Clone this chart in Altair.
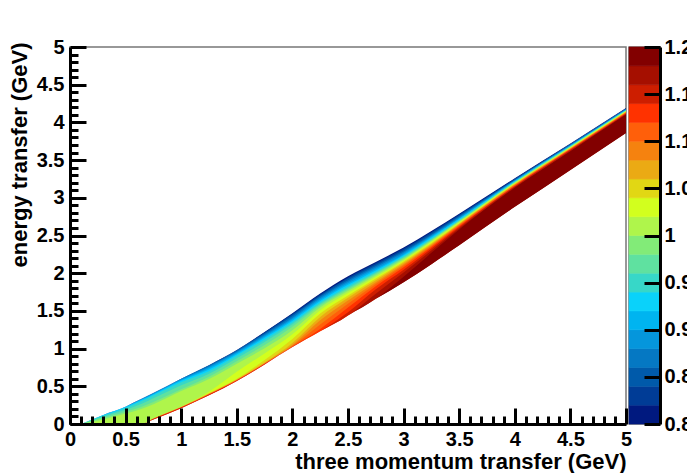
import altair as alt
import pandas as pd

FONT = "Liberation Sans"

# colour levels, from 0.80 (bottom of the palette) to 1.20 (top)
level_edges = [0.80, 0.82, 0.84, 0.86, 0.88, 0.90, 0.92, 0.94, 0.96, 0.98, 1.00,
               1.02, 1.04, 1.06, 1.08, 1.10, 1.12, 1.14, 1.16, 1.18, 1.20]
palette = ["#00197f", "#003c96", "#005aaa", "#0578c3", "#0596dc", "#00b4f0", "#0ad2fa",
           "#37d7c8", "#5fe1a0", "#82eb78", "#aff54b", "#d2ff1e", "#e1d714", "#ebaa14",
           "#f5820f", "#ff5f0a", "#ff3200", "#cd1e00", "#a50f00", "#820000"]

# three momentum transfer (GeV) at which the contours were read
q_knots = [0.1, 0.3, 0.5, 0.64, 0.75, 1.0, 1.25, 1.5, 1.75, 2.0, 2.25, 2.5, 2.75, 3.0, 3.25, 3.5, 4.0, 4.5, 5.0]
# energy transfer (GeV) of upper and lower boundary of the filled region
top_edge = [0.0, 0.12, 0.23, 0.33, 0.41, 0.60, 0.78, 0.98, 1.22, 1.47, 1.73, 1.96, 2.15, 2.34, 2.56, 2.79, 3.26, 3.72, 4.19]
bottom_edge = [0.0, 0.0, 0.0, 0.0, 0.06, 0.21, 0.38, 0.57, 0.79, 1.02, 1.23, 1.44, 1.66, 1.88, 2.12, 2.37, 2.88, 3.37, 3.86]

# position of the start of colour levels 1..19 across the band (0 = top edge, 1 = bottom edge), per q knot
contour_fractions = [
    [0, 0, 0, 0, 0, .03, .08, .20, .35, .50, 1, 1, 1, 1, 1, 1, 1, 1, 1],
    [0, 0, 0, 0, 0, .03, .08, .20, .35, .50, 1, 1, 1, 1, 1, 1, 1, 1, 1],
    [0, 0, 0, .01, .02, .04, .08, .18, .30, .40, 1, 1, 1, 1, 1, 1, 1, 1, 1],
    [0, 0, .005, .01, .03, .05, .09, .20, .32, .40, 1, 1, 1, 1, 1, 1, 1, 1, 1],
    [0, 0, .005, .01, .03, .05, .09, .20, .34, .42, .96, .96, .96, .97, .97, .97, .97, 1, 1],
    [0, 0, .005, .02, .04, .07, .12, .22, .36, .42, .95, .955, .96, .965, .97, .97, .975, 1, 1],
    [0, .005, .02, .05, .09, .14, .20, .28, .38, .46, .88, .93, .94, .95, .96, .965, .97, 1, 1],
    [.005, .01, .03, .06, .09, .13, .18, .26, .36, .44, .70, .93, .95, .96, .97, .975, .98, 1, 1],
    [.01, .03, .06, .10, .14, .18, .23, .31, .40, .50, .66, .86, .94, .96, .97, .98, .985, 1, 1],
    [.02, .05, .09, .14, .18, .22, .27, .33, .40, .50, .62, .76, .88, .94, .97, .98, .99, 1, 1],
    [.02, .05, .08, .12, .16, .20, .24, .28, .32, .37, .44, .53, .62, .71, .82, .94, 1, 1, 1],
    [.03, .06, .10, .14, .18, .22, .26, .30, .34, .38, .43, .49, .55, .62, .70, .80, .92, 1, 1],
    [.03, .07, .11, .15, .19, .23, .27, .30, .33, .37, .41, .45, .50, .55, .60, .66, .74, .86, 1],
    [.03, .07, .11, .15, .19, .22, .25, .28, .31, .34, .37, .40, .44, .48, .52, .57, .64, .72, .84],
    [.03, .07, .11, .14, .17, .20, .23, .26, .28, .30, .33, .36, .39, .42, .45, .48, .53, .59, .66],
    [.03, .06, .09, .12, .15, .17, .20, .22, .24, .26, .28, .30, .32, .34, .36, .39, .42, .46, .50],
    [.02, .04, .06, .08, .09, .11, .12, .13, .15, .16, .18, .19, .21, .22, .24, .26, .28, .31, .33],
    [.02, .03, .05, .07, .08, .09, .10, .11, .12, .13, .15, .17, .18, .19, .20, .22, .24, .27, .29],
    [.02, .03, .04, .06, .07, .08, .09, .10, .11, .12, .13, .15, .16, .17, .18, .20, .22, .24, .26],
]

x_labels = [0, 0.5, 1, 1.5, 2, 2.5, 3, 3.5, 4, 4.5, 5]
y_labels = [0, 0.5, 1, 1.5, 2, 2.5, 3, 3.5, 4, 4.5, 5]
tick_values = [i / 10 for i in range(51)]
bar_labels = [0.8, 0.85, 0.9, 0.95, 1, 1.05, 1.1, 1.15, 1.2]

W, H, BAR = 556, 377, 31
names = [f"L{i:02d}" for i in range(20)]

rows = []
for i, name in enumerate(names):
    for q, t, b, fr in zip(q_knots, top_edge, bottom_edge, contour_fractions):
        edges = [0] + fr + [1]
        # each level reaches over the next one, which then paints over it: no seams
        rows.append({"band": name, "q": q,
                     "upper": t + (b - t) * edges[i],
                     "lower": t + (b - t) * edges[min(i + 2, 20)]})
bands = pd.DataFrame(rows)

bar = pd.DataFrame({"band": names, "lo": level_edges[:-1], "hi": level_edges[1:],
                    "a": [0.0] * 20, "b": [1.0] * 20})
colour = alt.Color("band:N", scale=alt.Scale(domain=names, range=palette), legend=None)
edge_colour = alt.Stroke("band:N", scale=alt.Scale(domain=names, range=palette), legend=None)

label_style = dict(labelFont=FONT, labelFontSize=20, labelFontWeight="bold", labelColor="black",
                   labelFlush=False, labelOverlap=False, labelBound=False, format="~g")
title_style = dict(titleFont=FONT, titleFontSize=22, titleFontWeight="bold", titleColor="black")

x_scale = alt.Scale(domain=[0, 5], nice=False, zero=False)
y_scale = alt.Scale(domain=[0, 5], nice=False, zero=False)
major_test = "round(datum.value * 10) % 5 == 0"
inner_tick = {"condition": {"test": major_test, "value": 16}, "value": 8}

area = alt.Chart(bands).mark_area(interpolate="monotone", clip=True, opacity=1).encode(
    x=alt.X("q:Q", scale=x_scale, title="three momentum transfer (GeV)",
            axis=alt.Axis(orient="bottom", values=x_labels, ticks=False, grid=False, labelPadding=5,
                          domainColor="black", domainWidth=3, zindex=2, titleAnchor="end",
                          titleAlign="right", titleX=W, titleY=27, **label_style, **title_style)),
    y=alt.Y("upper:Q", stack=None, scale=y_scale, title="energy transfer (GeV)",
            axis=alt.Axis(orient="left", values=y_labels, ticks=False, grid=False, labelPadding=6,
                          domainColor="black", domainWidth=3, zindex=2, titleAnchor="end",
                          titleAlign="right", titleX=-44, titleY=-5, titleBaseline="alphabetic",
                          **label_style, **title_style)),
    y2="lower:Q",
    color=colour,
    order=alt.Order("band:N"),
)

tick_layer = alt.Chart(pd.DataFrame({"q": [0.0], "w": [0.0]})).mark_point(opacity=0).encode(
    x=alt.X("q:Q", scale=x_scale, title=None,
            axis=alt.Axis(orient="top", offset=-H, values=tick_values, labels=False, domain=False, grid=False,
                          tickColor="black", tickWidth=3, tickSize=inner_tick, zindex=2)),
    y=alt.Y("w:Q", scale=y_scale, title=None,
            axis=alt.Axis(orient="right", offset=-W, values=tick_values, labels=False, domain=False, grid=False,
                          tickColor="black", tickWidth=3, tickSize=inner_tick, zindex=2)),
)

main = alt.layer(area, tick_layer).resolve_axis(x="independent", y="independent").properties(width=W, height=H)

bar_scale = alt.Scale(domain=[0.8, 1.2], nice=False, zero=False)
bar_x = alt.Scale(domain=[0, 1], nice=False, zero=False)
bar_rects = alt.Chart(bar).mark_rect(strokeWidth=0.6).encode(
    x=alt.X("a:Q", scale=bar_x, axis=None), x2="b:Q",
    y=alt.Y("lo:Q", scale=bar_scale, title=None,
            axis=alt.Axis(orient="right", values=bar_labels, ticks=False, grid=False, labelPadding=4,
                          domainColor="black", domainWidth=3, zindex=2, **label_style)),
    y2="hi:Q",
    color=colour,
    stroke=edge_colour,
)
bar_ticks = alt.Chart(pd.DataFrame({"v": [1.0], "a": [0.0]})).mark_point(opacity=0).encode(
    x=alt.X("a:Q", scale=bar_x, axis=None),
    y=alt.Y("v:Q", scale=bar_scale, title=None,
            axis=alt.Axis(orient="left", offset=-BAR, values=bar_labels, labels=False, domain=False, grid=False,
                          tickColor="black", tickWidth=3, tickSize=16, zindex=2)),
)
colorbar = alt.layer(bar_rects, bar_ticks).resolve_axis(y="independent").properties(width=BAR, height=H)

chart = alt.hconcat(main, colorbar, spacing=3, bounds="flush").resolve_scale(color="shared").properties(
    padding={"left": -1, "top": 28, "right": -17, "bottom": 0},
    background="white",
).configure_view(stroke="#777777", strokeWidth=1.5)

chart.save("out.html", embed_options={"renderer": "svg", "actions": False})
